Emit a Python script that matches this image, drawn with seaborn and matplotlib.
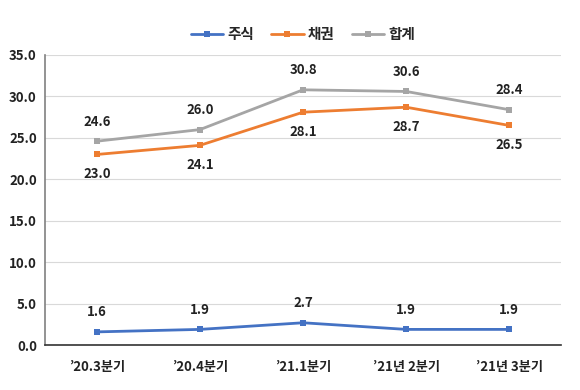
import pandas as pd
import matplotlib.pyplot as plt
import seaborn as sns

# Data
quarters = ["’20.3분기", "’20.4분기", "’21.1분기", "’21년 2분기", "’21년 3분기"]
stock = [1.6, 1.9, 2.7, 1.9, 1.9]
bond = [23.0, 24.1, 28.1, 28.7, 26.5]
total = [24.6, 26.0, 30.8, 30.6, 28.4]

df = pd.DataFrame({"분기": quarters, "주식": stock, "채권": bond, "합계": total})
long_df = df.melt(id_vars="분기", var_name="구분", value_name="값")
long_df["x"] = long_df["분기"].map({q: i for i, q in enumerate(quarters)})

sns.set_style("white")
plt.rcParams['font.family'] = ['Noto Sans CJK KR', 'DejaVu Sans']

colors = {"주식": "#4472C4", "채권": "#ED7D31", "합계": "#A5A5A5"}

fig = plt.figure(figsize=(5.8, 3.9), dpi=100)
ax = fig.add_axes([0.078, 0.115, 0.889, 0.744])

sns.lineplot(data=long_df, x="x", y="값", hue="구분", palette=colors,
             marker="s", markersize=5, markeredgewidth=0, linewidth=2,
             ax=ax, legend=True)

# Data labels
offsets = {"주식": 14, "채권": -14, "합계": 14}
for name in ["주식", "채권", "합계"]:
    for i, v in enumerate(df[name]):
        ax.annotate(f"{v:.1f}", (i, v), xytext=(0, offsets[name]),
                    textcoords="offset points", ha="center", va="center",
                    fontsize=9.5, fontweight="bold", color="#222222")

ax.set_xlim(-0.5, 4.5)
ax.set_ylim(0, 35)
ax.set_yticks(range(0, 36, 5))
ax.set_yticklabels([f"{t:.1f}" for t in range(0, 36, 5)],
                   fontsize=9.5, fontweight="bold", color="#222222")
ax.set_xticks(range(len(quarters)))
ax.set_xticklabels(quarters, fontsize=9.5, fontweight="bold", color="#222222")
ax.set_xticks([i - 0.5 for i in range(len(quarters) + 1)], minor=True)
ax.tick_params(axis="x", which="major", length=0, pad=11)
ax.tick_params(axis="x", which="minor", length=5, color="#333333", width=1)
ax.tick_params(axis="y", length=0, pad=6)

ax.grid(axis="y", color="#D9D9D9", linewidth=0.8)
ax.set_axisbelow(True)
for s in ["top", "right"]:
    ax.spines[s].set_visible(False)
ax.spines["left"].set_color("#808080")
ax.spines["left"].set_linewidth(1.2)
ax.spines["bottom"].set_color("#333333")
ax.spines["bottom"].set_linewidth(1.2)
ax.set_xlabel("")
ax.set_ylabel("")

handles, labels = ax.get_legend_handles_labels()
ax.legend(handles, labels, loc="lower center", bbox_to_anchor=(0.5, 1.0),
          ncol=3, frameon=False, handlelength=2.2, columnspacing=1.2,
          handletextpad=0.3, prop={"weight": "bold", "size": 10.5})

fig.savefig("out.png", dpi=100)
